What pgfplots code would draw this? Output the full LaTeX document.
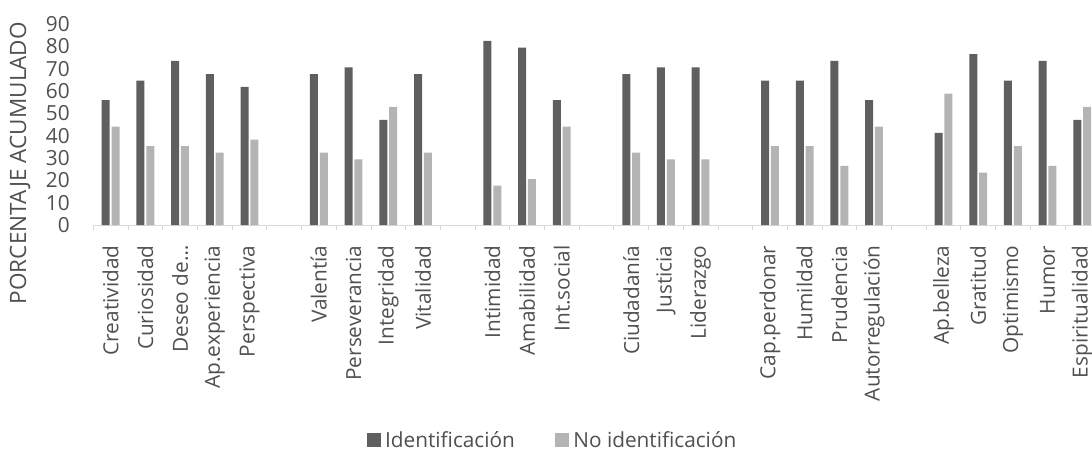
\documentclass[border=0pt]{standalone}
\usepackage{pgfplots}
\pgfplotsset{compat=1.18}
\usepackage{fontspec}
\setmainfont{Open Sans}
\definecolor{darkbar}{HTML}{5F5F5F}
\definecolor{lightbar}{HTML}{B4B4B4}
\definecolor{txt}{HTML}{505050}
\definecolor{axisgray}{HTML}{D9D9D9}
\newcommand{\lblfont}{\fontsize{20.8}{24}\selectfont}
\newcommand{\titlefont}{\fontsize{22.5}{26}\selectfont}
\begin{document}
\begin{tikzpicture}
\begin{axis}[
  at={(0,0)}, anchor=south west,
  scale only axis, width=999.4pt, height=201pt,
  xmin=-0.5, xmax=28.3, ymin=0, ymax=90,
  ytick={0,10,...,90},
  xtick={0,1,2,3,4,6,7,8,9,11,12,13,15,16,17,19,20,21,22,24,25,26,27,28},
  xticklabels={Creatividad,Curiosidad,Deseo de…,Ap.experiencia,Perspectiva,Valentía,Perseverancia,Integridad,Vitalidad,Intimidad,Amabilidad,Int.social,Ciudadanía,Justicia,Liderazgo,Cap.perdonar,Humildad,Prudencia,Autorregulación,Ap.belleza,Gratitud,Optimismo,Humor,Espiritualidad},
  minor xtick={-0.5,0.5,...,27.5},
  major tick length=0pt, minor tick length=5pt,
  tick align=outside,
  axis x line*=bottom, axis y line*=left,
  x axis line style={axisgray, line width=0.8pt, -},
  y axis line style={draw=none},
  minor x tick style={axisgray, line width=0.8pt},
  major tick style={draw=none},
  /pgf/number format/assume math mode=true,
  ticklabel style={font=\lblfont, text=txt},
  yticklabel style={xshift=-20pt},
  xticklabel style={rotate=90, anchor=east},
  xticklabel shift=17pt,
  ylabel={PORCENTAJE ACUMULADO},
  ylabel style={at={(axis description cs:-0.0733,0.308)}, anchor=center, font=\titlefont, text=txt},
  legend columns=2,
  legend style={at={(0.4595,-1.07)}, anchor=center, draw=none, font=\lblfont, text=txt,
    nodes={inner sep=2pt}, /tikz/every even column/.append style={column sep=38pt}},
]
\addplot[ybar, bar width=8pt, bar shift=-4.9pt, fill=darkbar, draw=none, forget plot] coordinates {
(0,55.9) (1,64.7) (2,73.5) (3,67.6) (4,61.8)
(6,67.6) (7,70.6) (8,47.1) (9,67.6)
(11,82.4) (12,79.4) (13,55.9)
(15,67.6) (16,70.6) (17,70.6)
(19,64.7) (20,64.7) (21,73.5) (22,55.9)
(24,41.2) (25,76.5) (26,64.7) (27,73.5) (28,47.1)};
\addplot[ybar, bar width=8pt, bar shift=4.9pt, fill=lightbar, draw=none, forget plot] coordinates {
(0,44.1) (1,35.3) (2,35.3) (3,32.4) (4,38.2)
(6,32.4) (7,29.4) (8,52.9) (9,32.4)
(11,17.6) (12,20.6) (13,44.1)
(15,32.4) (16,29.4) (17,29.4)
(19,35.3) (20,35.3) (21,26.5) (22,44.1)
(24,58.8) (25,23.5) (26,35.3) (27,26.5) (28,52.9)};
\addlegendimage{legend image code/.code={\fill[darkbar] (0pt,-6.5pt) rectangle (13pt,6.5pt); \path (16pt,0pt);}}
\addlegendentry{Identificación}
\addlegendimage{legend image code/.code={\fill[lightbar] (0pt,-6.5pt) rectangle (13pt,6.5pt); \path (16pt,0pt);}}
\addlegendentry{No identificación}
\end{axis}
\pgfresetboundingbox
\path[use as bounding box] (-93.3pt,-226pt) rectangle (998.7pt,225pt);
\end{tikzpicture}
\end{document}
